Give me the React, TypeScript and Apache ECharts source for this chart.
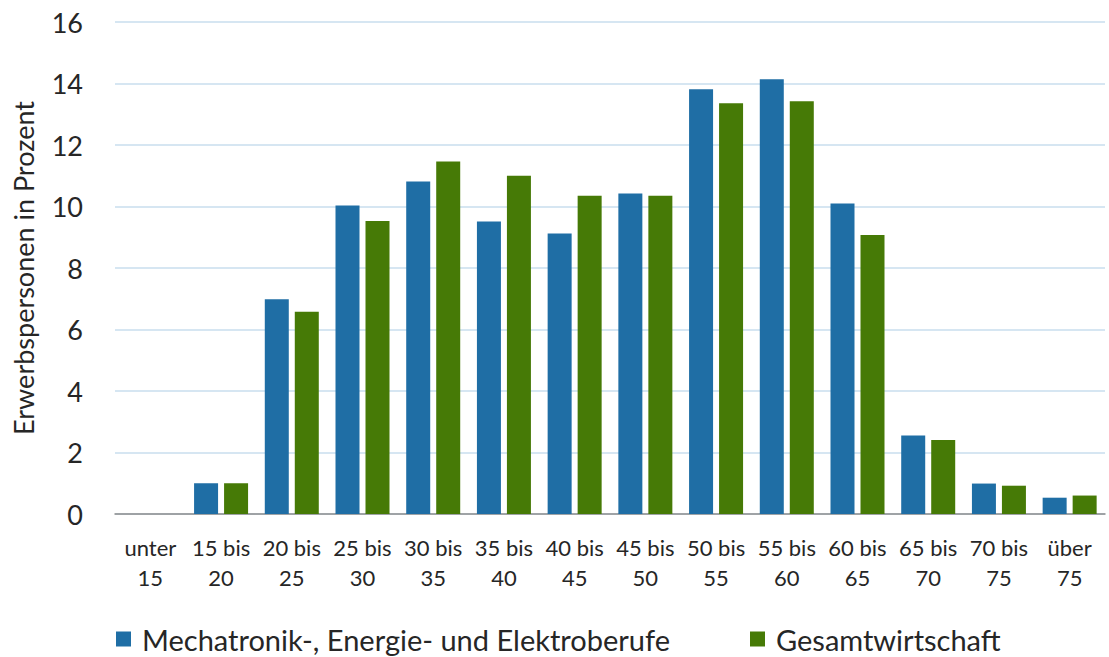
import React, { useEffect, useRef } from "react";
import * as echarts from "echarts";

const categories = [
  "unter\n15", "15 bis\n20", "20 bis\n25", "25 bis\n30", "30 bis\n35", "35 bis\n40", "40 bis\n45",
  "45 bis\n50", "50 bis\n55", "55 bis\n60", "60 bis\n65", "65 bis\n70", "70 bis\n75", "über\n75",
];
const mechatronik = [0, 1.0, 6.98, 10.03, 10.81, 9.51, 9.12, 10.42, 13.81, 14.14, 10.1, 2.55, 0.99, 0.53];
const gesamt = [0, 1.0, 6.58, 9.53, 11.46, 11.0, 10.35, 10.35, 13.36, 13.42, 9.07, 2.41, 0.92, 0.6];
const seriesNames = ["Mechatronik-, Energie- und Elektroberufe", "Gesamtwirtschaft"];
const yTicks = { min: 0, max: 16, interval: 2 };
const yAxisTitle = "Erwerbspersonen in Prozent";

const FONT = "Lato";
const TEXT = "#262626";

export default function App() {
  const ref = useRef<HTMLDivElement>(null);
  useEffect(() => {
    if (!ref.current) return;
    const chart = echarts.init(ref.current, null, { renderer: "svg" });
    const legendBase = {
      top: 624,
      padding: 0,
      itemWidth: 15,
      itemHeight: 15,
      icon: "rect",
      textStyle: {
        fontFamily: FONT,
        fontSize: 29,
        lineHeight: 30,
        color: TEXT,
        padding: [0, 0, 0, 6],
      },
    };
    chart.setOption({
      animation: false,
      backgroundColor: "#ffffff",
      textStyle: { fontFamily: FONT },
      grid: { left: 115, right: 4, top: 22, bottom: 143, containLabel: false },
      legend: [
        { ...legendBase, left: 116, data: [seriesNames[0]] },
        { ...legendBase, left: 750, data: [seriesNames[1]] },
      ],
      xAxis: {
        type: "category",
        data: categories,
        axisLine: { lineStyle: { color: "#8c8c8c", width: 1.5 } },
        axisTick: { show: false },
        axisLabel: {
          interval: 0,
          fontFamily: FONT,
          fontSize: 22,
          color: TEXT,
          lineHeight: 30,
          margin: 18,
        },
      },
      yAxis: {
        type: "value",
        min: yTicks.min,
        max: yTicks.max,
        interval: yTicks.interval,
        name: yAxisTitle,
        nameLocation: "middle",
        nameGap: 78,
        nameTextStyle: { fontFamily: FONT, fontSize: 27, color: TEXT },
        axisLine: { show: false },
        axisTick: { show: false },
        axisLabel: { fontFamily: FONT, fontSize: 27, color: TEXT, margin: 32 },
        splitLine: { lineStyle: { color: "#c8deee", width: 1.5 } },
      },
      series: [
        {
          name: seriesNames[0],
          type: "bar",
          data: mechatronik,
          barWidth: 24,
          barGap: "25%",
          itemStyle: { color: "#1f6ea5" },
        },
        {
          name: seriesNames[1],
          type: "bar",
          data: gesamt,
          barWidth: 24,
          barGap: "25%",
          itemStyle: { color: "#467a06" },
        },
      ],
    });
    return () => chart.dispose();
  }, []);
  return (
    <div
      ref={ref}
      style={{ position: "fixed", left: 0, top: 0, width: 1109, height: 657, background: "#fff" }}
    />
  );
}
